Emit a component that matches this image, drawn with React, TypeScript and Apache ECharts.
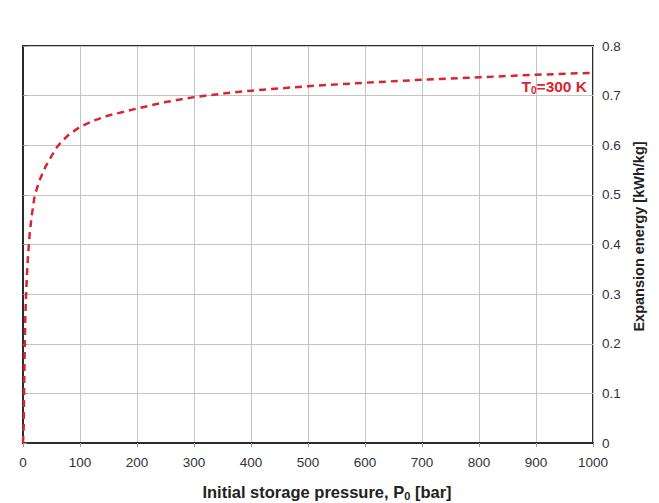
import React, { useEffect, useRef } from "react";
import * as echarts from "echarts";

const pressures = [0, 1, 1.25, 1.5, 2, 2.5, 3, 4, 5, 6, 7, 8, 10, 12, 15, 20, 25, 30, 40, 50, 60, 70, 80, 100, 125, 150, 200, 250, 300, 350, 400, 500, 600, 700, 800, 900, 1000];
const energies = [0, 0, 0.035, 0.065, 0.11, 0.15, 0.19, 0.25, 0.285, 0.315, 0.34, 0.362, 0.395, 0.425, 0.455, 0.495, 0.515, 0.532, 0.558, 0.578, 0.597, 0.61, 0.621, 0.637, 0.65, 0.66, 0.674, 0.687, 0.697, 0.704, 0.71, 0.719, 0.726, 0.732, 0.737, 0.742, 0.746];
const xTicks = { min: 0, max: 1000, interval: 100 };
const yTicks = { min: 0, max: 0.8, interval: 0.1 };
const seriesLabel = "T{sub|0}=300 K";
const xName = "Initial storage pressure, P{sub|0} [bar]";
const yName = "Expansion energy [kWh/kg]";

const FONT = "Liberation Sans";

export default function App() {
  const ref = useRef<HTMLDivElement>(null);
  useEffect(() => {
    if (!ref.current) return;
    const chart = echarts.init(ref.current, undefined, { renderer: "svg" });
    const data = pressures.map((p, i) => [p, energies[i]]);
    chart.setOption({
      animation: false,
      backgroundColor: "#ffffff",
      textStyle: { fontFamily: FONT },
      grid: {
        left: 23,
        right: 66,
        top: 46,
        bottom: 60,
        outerBoundsMode: "none",
        containLabel: false,
        show: true,
        borderColor: "#2b2b2b",
        borderWidth: 2,
        backgroundColor: "transparent",
      },
      xAxis: {
        type: "value",
        min: xTicks.min,
        max: xTicks.max,
        interval: xTicks.interval,
        name: xName,
        nameLocation: "middle",
        nameGap: 39,
        nameTextStyle: {
          fontFamily: FONT,
          fontSize: 16.5,
          fontWeight: "bold",
          color: "#222",
          padding: [0, 0, 0, 38],
          rich: {
            sub: { fontSize: 11, fontWeight: "bold", color: "#222", verticalAlign: "bottom", padding: [8, 0, 0, 0] },
          },
        },
        axisLine: { show: true, lineStyle: { color: "#2b2b2b", width: 2 } },
        axisTick: { show: true, length: 4, lineStyle: { color: "#999" } },
        axisLabel: { fontSize: 13.5, color: "#333", margin: 12, fontFamily: FONT, formatter: (v: number) => String(v) },
        splitLine: { show: true, lineStyle: { color: "#c4c4c4", width: 1 } },
      },
      yAxis: {
        type: "value",
        position: "right",
        min: yTicks.min,
        max: yTicks.max,
        interval: yTicks.interval,
        name: yName,
        nameLocation: "middle",
        nameRotate: 90,
        nameGap: 38,
        nameTextStyle: { fontFamily: FONT, fontSize: 14.5, fontWeight: "bold", color: "#222", padding: [0, 0, 0, 16] },
        axisLine: { show: true, lineStyle: { color: "#2b2b2b", width: 2 } },
        axisTick: { show: true, length: 4, lineStyle: { color: "#999" } },
        axisLabel: { fontSize: 13.5, color: "#333", margin: 9, fontFamily: FONT },
        splitLine: { show: true, lineStyle: { color: "#c4c4c4", width: 1 } },
      },
      series: [
        {
          type: "line",
          data,
          smooth: false,
          showSymbol: false,
          symbol: "none",
          lineStyle: { color: "#d7262f", width: 2.5, type: [7, 5] },
          markPoint: {
            symbol: "circle",
            symbolSize: 0,
            data: [{ coord: [pressures[pressures.length - 1], energies[energies.length - 1]] }],
            label: {
              show: true,
              position: "left",
              distance: 6,
              offset: [0, 14],
              formatter: seriesLabel,
              fontFamily: FONT,
              fontSize: 15.5,
              fontWeight: "bold",
              color: "#d7262f",
              rich: {
                sub: { fontSize: 10, fontWeight: "bold", color: "#d7262f", verticalAlign: "bottom", padding: [8, 0, 0, 0] },
              },
            },
          },
        },
      ],
    });
    return () => chart.dispose();
  }, []);
  return <div ref={ref} style={{ width: 659, height: 503, position: "absolute", left: 0, top: 0 }} />;
}
